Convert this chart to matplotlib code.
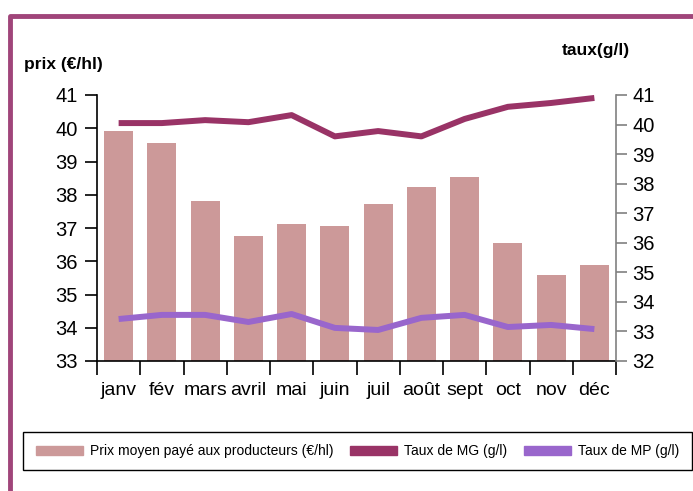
import numpy as np
import matplotlib.pyplot as plt
from matplotlib.patches import Patch
from matplotlib.lines import Line2D

plt.rcParams['font.family'] = ['Liberation Sans', 'DejaVu Sans']

mois = ['janv', 'fév', 'mars', 'avril', 'mai', 'juin',
        'juil', 'août', 'sept', 'oct', 'nov', 'déc']
prix = [39.92, 39.56, 37.81, 36.76, 37.12, 37.06,
        37.72, 38.23, 38.53, 36.55, 35.59, 35.89]
taux_mg = [40.05, 40.05, 40.15, 40.08, 40.32, 39.60,
           39.78, 39.60, 40.19, 40.60, 40.73, 40.90]
taux_mp = [33.42, 33.56, 33.56, 33.32, 33.59, 33.12,
           33.05, 33.46, 33.56, 33.15, 33.22, 33.08]

c_bar = '#cc9999'
c_mg = '#993366'
c_mp = '#9966cc'
c_cadre = '#a0457a'

W, H = 693, 491
fig = plt.figure(figsize=(W / 100, H / 100), dpi=100)

# cadre autour du graphique
fig.add_artist(Line2D([10 / W, 10 / W, 1.0], [0.0, 1 - 16 / H, 1 - 16 / H],
                      color=c_cadre, lw=3.5, transform=fig.transFigure))

ax = fig.add_axes([97 / W, (H - 361) / H, (616 - 97) / W, (361 - 95) / H])
x = np.arange(len(mois))
ax.bar(x, prix, width=0.67, color=c_bar, bottom=0)
ax.set_xlim(-0.5, 11.5)
ax.set_ylim(33, 41)
ax.set_yticks(range(33, 42))
ax.tick_params(axis='y', labelsize=14.5, length=9, width=1.2, pad=5)
ax.set_xticks(np.arange(-0.5, 12, 1))
ax.set_xticklabels([])
ax.set_xticks(x, minor=True)
ax.set_xticklabels(mois, minor=True, fontsize=14)
ax.tick_params(axis='x', which='major', length=10, width=1.2, direction='out')
ax.tick_params(axis='x', which='minor', length=0, pad=15)
for s in ['top', 'right']:
    ax.spines[s].set_visible(False)
ax.spines['left'].set_linewidth(1.2)
ax.spines['bottom'].set_linewidth(1.2)

ax2 = ax.twinx()
ax2.plot(x, taux_mg, color=c_mg, lw=4.3, solid_capstyle='butt')
ax2.plot(x, taux_mp, color=c_mp, lw=4.3, solid_capstyle='butt')
ax2.set_ylim(32, 41)
ax2.set_yticks(range(32, 42))
ax2.tick_params(axis='y', labelsize=14.5, length=8, width=1.2, pad=4,
                color='#808080')
for s in ['top', 'left', 'bottom']:
    ax2.spines[s].set_visible(False)
ax2.spines['right'].set_color('#808080')
ax2.spines['right'].set_linewidth(1.2)

fig.text(24 / W, 1 - 65 / H, 'prix (€/hl)', fontsize=12.5, fontweight='bold',
         va='center', ha='left')
fig.text(562 / W, 1 - 51 / H, 'taux(g/l)', fontsize=12.5, fontweight='bold',
         va='center', ha='left')

handles = [Patch(color=c_bar), Patch(color=c_mg), Patch(color=c_mp)]
labels = ['Prix moyen payé aux producteurs (€/hl)', 'Taux de MG (g/l)',
          'Taux de MP (g/l)']
leg = fig.legend(handles, labels, ncol=3, loc='center',
                 bbox_to_anchor=(23 / W, (H - 470) / H, 669 / W, 38 / H),
                 fontsize=10, frameon=False, handlelength=3.4,
                 handleheight=0.6, columnspacing=1.2, handletextpad=0.5,
                 borderaxespad=0)
# boîte de légende
fig.add_artist(plt.Rectangle((23 / W, (H - 470) / H), 669 / W, 38 / H,
                             fill=False, edgecolor='black', lw=1.0,
                             transform=fig.transFigure))

fig.savefig('out.png', dpi=100)
